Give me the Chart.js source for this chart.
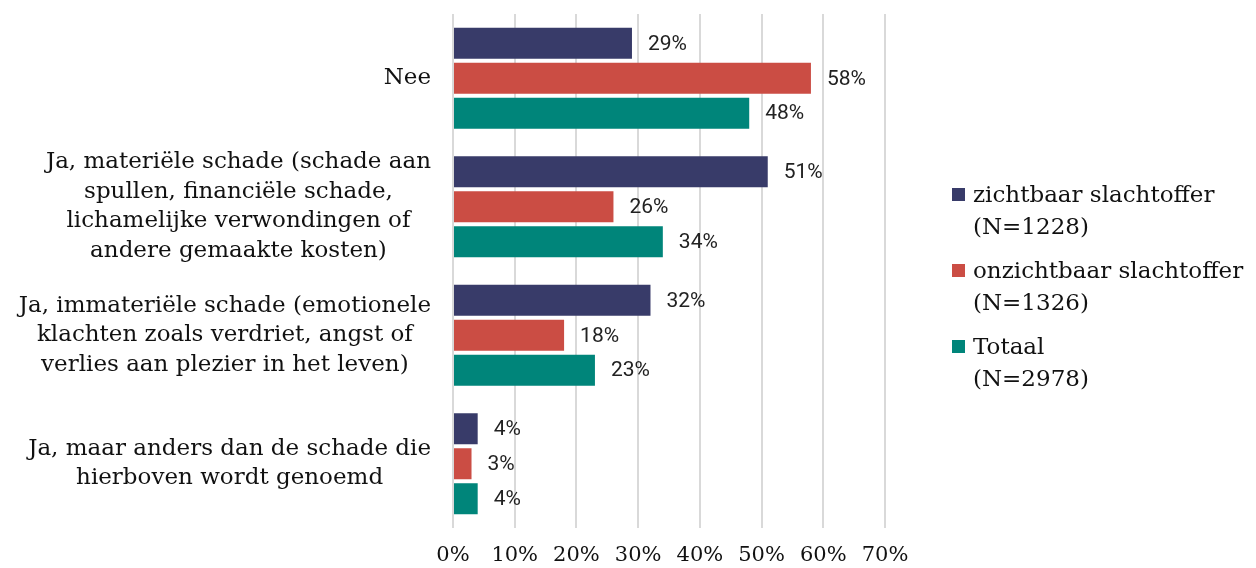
<!DOCTYPE html>
<html>
<head>
<meta charset="utf-8">
<script src="https://cdn.jsdelivr.net/npm/chart.js@4.4.1/dist/chart.umd.min.js"></script>
<style>
  body { margin: 0; background: #fff; }
  #wrap { position: relative; width: 1256px; height: 568px; }
  #legend { position: absolute; left: 952px; top: 178px; font-family: "DejaVu Serif", serif; font-size: 23px; color: #111; }
  .item { display: flex; align-items: flex-start; margin-bottom: 12px; line-height: 32px; }
  .box { width: 13px; height: 13px; margin-top: 10px; margin-right: 8px; flex: none; }
</style>
</head>
<body>
<div id="wrap">
  <canvas id="chart" width="1256" height="568"></canvas>
  <div id="legend"></div>
</div>
<script>
// data
const categories = [
    ['Nee'],
    ['Ja, materiële schade (schade aan', 'spullen, financiële schade,', 'lichamelijke verwondingen of', 'andere gemaakte kosten)'],
    ['Ja, immateriële schade (emotionele', 'klachten zoals verdriet, angst of', 'verlies aan plezier in het leven)'],
    ['Ja, maar anders dan de schade die', 'hierboven wordt genoemd']
];
const seriesNames = ['zichtbaar slachtoffer', 'onzichtbaar slachtoffer', 'Totaal'];
const seriesN = ['(N=1228)', '(N=1326)', '(N=2978)'];
const zichtbaar = [29, 51, 32, 4];
const onzichtbaar = [58, 26, 18, 3];
const totaal = [48, 34, 23, 4];
const colors = ['#383b69', '#cb4d44', '#00857a'];

document.addEventListener('DOMContentLoaded', function () {
    const ctx = document.getElementById('chart').getContext('2d');
    const values = [zichtbaar, onzichtbaar, totaal];

    const datasets = seriesNames.map((name, i) => ({
        label: name,
        data: values[i],
        backgroundColor: colors[i],
        borderWidth: 0,
        categoryPercentage: 0.817,
        barPercentage: 0.886
    }));

    // value labels right of the bars
    const valueLabels = {
        id: 'valueLabels',
        afterDatasetsDraw(chart) {
            const c = chart.ctx;
            c.save();
            c.font = '21px Roboto, sans-serif';
            c.fillStyle = '#222';
            c.textAlign = 'left';
            c.textBaseline = 'middle';
            chart.data.datasets.forEach((ds, i) => {
                chart.getDatasetMeta(i).data.forEach((bar, j) => {
                    c.fillText(ds.data[j] + '%', bar.x + 16, bar.y + 1);
                });
            });
            c.restore();
        }
    };

    // category labels: block right aligned, lines centred
    const categoryLabels = {
        id: 'categoryLabels',
        afterDraw(chart) {
            const c = chart.ctx;
            const y = chart.scales.y;
            const right = chart.chartArea.left - 22;
            const lineH = 29.5;
            c.save();
            c.font = '23px "DejaVu Serif", serif';
            c.fillStyle = '#111';
            c.textAlign = 'center';
            c.textBaseline = 'middle';
            categories.forEach((lines, i) => {
                const w = Math.max(...lines.map(l => c.measureText(l).width));
                const cx = right - w / 2;
                const cy = y.getPixelForValue(i);
                const top = cy - (lines.length - 1) * lineH / 2;
                lines.forEach((l, k) => c.fillText(l, cx, top + k * lineH));
            });
            c.restore();
        }
    };

    new Chart(ctx, {
        type: 'bar',
        data: {
            labels: categories.map(l => l.join(' ')),
            datasets: datasets
        },
        options: {
            indexAxis: 'y',
            responsive: false,
            animation: false,
            layout: {
                padding: { top: 14, left: 453, right: 371, bottom: 0 }
            },
            scales: {
                x: {
                    min: 0,
                    max: 70,
                    afterFit: scale => { scale.height = 40; },
                    ticks: {
                        stepSize: 10,
                        padding: 15,
                        color: '#111',
                        font: { family: 'DejaVu Serif', size: 21 },
                        callback: v => v + '%'
                    },
                    grid: { color: '#d9d9d9', lineWidth: 2, drawTicks: false },
                    border: { display: false }
                },
                y: {
                    display: false
                }
            },
            plugins: {
                legend: { display: false },
                tooltip: { enabled: false }
            }
        },
        plugins: [valueLabels, categoryLabels]
    });

    // legend
    const legend = document.getElementById('legend');
    seriesNames.forEach((name, i) => {
        const item = document.createElement('div');
        item.className = 'item';
        item.innerHTML = '<span class="box" style="background:' + colors[i] + '"></span><span>' + name + '<br>' + seriesN[i] + '</span>';
        legend.appendChild(item);
    });
});
</script>
</body>
</html>
